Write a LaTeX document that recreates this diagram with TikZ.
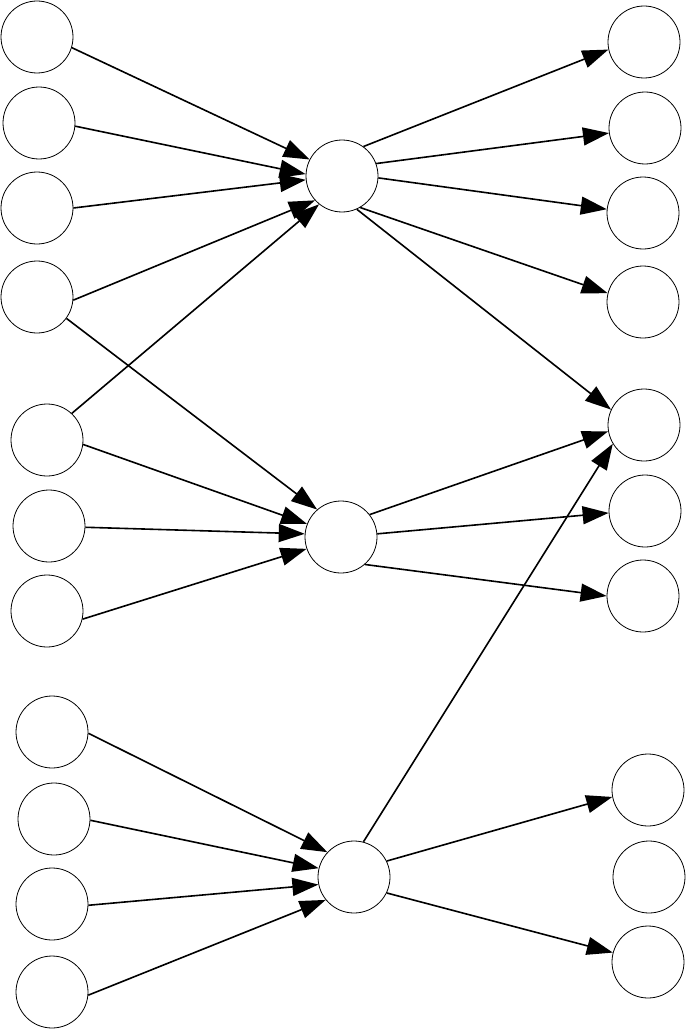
\documentclass[tikz,border=0pt]{standalone}
\usepackage{tikz}
\usetikzlibrary{arrows.meta}
\tikzset{
  unit/.style={draw, circle, line width=0.8pt, minimum size=72pt, inner sep=0pt},
  link/.style={line width=1.6pt, -{Triangle[length=26pt, width=18pt]}}
}

\begin{document}
\begin{tikzpicture}[x=1pt, y=-1pt]
    \useasboundingbox (0, 0) rectangle (687, 1030);

    \node [unit] (i1) at (37, 37) {};
    \node [unit] (i2) at (39, 123) {};
    \node [unit] (i3) at (37, 208) {};
    \node [unit] (i4) at (37, 297) {};
    \node [unit] (i5) at (47, 440) {};
    \node [unit] (i6) at (49, 526) {};
    \node [unit] (i7) at (47, 611) {};
    \node [unit] (i8) at (52, 732) {};
    \node [unit] (i9) at (54, 819) {};
    \node [unit] (i10) at (52, 904) {};
    \node [unit] (i11) at (52, 992) {};

    \node [unit] (h1) at (342, 176) {};
    \node [unit] (h2) at (341, 537) {};
    \node [unit] (h3) at (354, 877) {};

    \node [unit] (o1) at (644, 42) {};
    \node [unit] (o2) at (645, 128) {};
    \node [unit] (o3) at (643, 213) {};
    \node [unit] (o4) at (643, 302) {};
    \node [unit] (o5) at (644, 425) {};
    \node [unit] (o6) at (645, 511) {};
    \node [unit] (o7) at (643, 596) {};
    \node [unit] (o8) at (648, 790) {};
    \node [unit] (o9) at (649, 877) {};
    \node [unit] (o10) at (648, 962) {};

    % first group
    \draw [link] (i1.-17) -- (h1.153);
    \draw [link] (i2.-5) -- (h1.177);
    \draw [link] (i3.0) -- (h1.-174);
    \draw [link] (i4.-5) -- (h1.-138);
    \draw [link] (i5.47) -- (h1.-129);

    \draw [link] (h1.54) -- (o1.-168);
    \draw [link] (h1.20) -- (o2.-172);
    \draw [link] (h1.-3) -- (o3.174);
    \draw [link] (h1.-60) -- (o4.166);
    \draw [link] (h1.-66) -- (o5.155);

    % second group
    \draw [link] (i4.-36) -- (h2.131);
    \draw [link] (i5.-7) -- (h2.159);
    \draw [link] (i6.-2) -- (h2.175);
    \draw [link] (i7.-13) -- (h2.-161);

    \draw [link] (h2.38) -- (o5.-170);
    \draw [link] (h2.5) -- (o6.-177);
    \draw [link] (h2.-49) -- (o7.180);

    % third group
    \draw [link] (i8.-2) -- (h3.137);
    \draw [link] (i9.-2) -- (h3.166);
    \draw [link] (i10.-2) -- (h3.-168);
    \draw [link] (i11.-5) -- (h3.-141);

    \draw [link] (h3.75) -- (o5.-149);
    \draw [link] (h3.26) -- (o8.-169);
    \draw [link] (h3.-26) -- (o10.165);
  \end{tikzpicture}
\end{document}
